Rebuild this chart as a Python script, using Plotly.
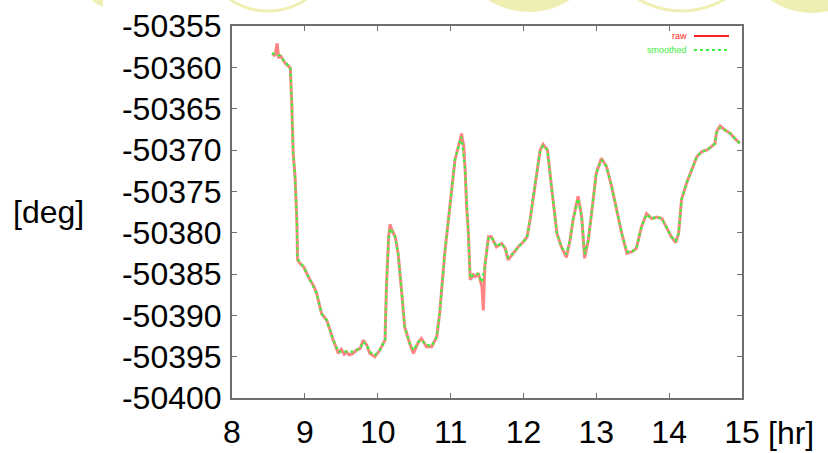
import plotly.graph_objects as go

# ---- data ----
time_raw = [8.55, 8.59, 8.62, 8.64, 8.66, 8.70, 8.73, 8.77, 8.80, 8.82, 8.84, 8.865, 8.89, 8.90,
            8.94, 8.98, 9.03, 9.07, 9.12, 9.16, 9.23, 9.30, 9.35, 9.39, 9.46, 9.50, 9.54, 9.57,
            9.61, 9.66, 9.71, 9.76, 9.80, 9.85, 9.89, 9.96, 10.03, 10.10, 10.12, 10.15, 10.17,
            10.20, 10.24, 10.28, 10.33, 10.37, 10.44, 10.49, 10.56, 10.60, 10.67, 10.74, 10.81,
            10.85, 10.92, 10.99, 11.06, 11.13, 11.15, 11.18, 11.20, 11.22, 11.24, 11.27, 11.31,
            11.34, 11.38, 11.43, 11.45, 11.47, 11.52, 11.56, 11.63, 11.70, 11.75, 11.79, 11.86,
            11.93, 12.00, 12.05, 12.09, 12.16, 12.23, 12.27, 12.33, 12.39, 12.46, 12.52, 12.59,
            12.64, 12.68, 12.75, 12.80, 12.84, 12.89, 12.94, 13.00, 13.07, 13.14, 13.21, 13.28,
            13.35, 13.42, 13.49, 13.55, 13.62, 13.69, 13.76, 13.83, 13.90, 13.96, 14.03, 14.09,
            14.13, 14.17, 14.24, 14.31, 14.38, 14.45, 14.52, 14.58, 14.63, 14.65, 14.70, 14.77,
            14.84, 14.90, 14.97]
deg_raw = [-50358.3, -50358.6, -50357.1, -50358.9, -50358.5, -50359.1, -50359.5, -50359.8, -50360.1,
           -50364.3, -50370.4, -50373.2, -50378.5, -50383.3, -50383.8, -50384.1, -50385.0,
           -50385.7, -50386.4, -50387.3, -50389.8, -50390.6, -50391.9, -50393.0, -50394.6,
           -50394.1, -50394.7, -50394.4, -50394.8, -50394.6, -50394.2, -50394.0, -50393.0,
           -50393.6, -50394.6, -50395.0, -50394.2, -50393.0, -50386.5, -50380.5, -50379.0,
           -50379.8, -50380.5, -50382.5, -50387.3, -50391.4, -50393.4, -50394.6, -50393.2,
           -50392.8, -50393.8, -50393.8, -50392.6, -50389.8, -50382.5, -50376.4, -50371.2,
           -50368.8, -50368.0, -50369.5, -50372.4, -50376.9, -50379.3, -50385.7, -50385.1,
           -50385.3, -50384.9, -50386.5, -50389.4, -50384.1, -50380.5, -50380.5, -50381.7,
           -50381.3, -50381.9, -50383.3, -50382.5, -50381.7, -50381.1, -50380.5, -50378.5,
           -50374.0, -50370.0, -50369.3, -50370.0, -50374.8, -50380.1, -50381.7, -50383.0,
           -50380.9, -50378.5, -50375.6, -50378.1, -50383.1, -50380.9, -50377.3, -50372.8,
           -50371.0, -50372.0, -50374.4, -50377.3, -50380.1, -50382.5, -50382.3, -50381.9,
           -50379.3, -50377.7, -50378.3, -50378.1, -50378.3, -50379.3, -50380.5, -50381.2,
           -50380.1, -50376.0, -50374.0, -50372.4, -50370.8, -50370.2, -50370.0, -50369.6,
           -50369.2, -50367.8, -50367.1, -50367.6, -50368.0, -50368.6, -50369.2]

time_smooth = [8.55, 8.60, 8.66, 8.73, 8.80, 8.82, 8.84, 8.865, 8.89, 8.90, 8.98, 9.07, 9.16, 9.23,
               9.30, 9.39, 9.46, 9.57, 9.66, 9.76, 9.80, 9.85, 9.89, 9.96, 10.03, 10.10, 10.12,
               10.15, 10.17, 10.24, 10.28, 10.33, 10.37, 10.44, 10.49, 10.56, 10.60, 10.67, 10.74,
               10.81, 10.85, 10.92, 10.99, 11.06, 11.13, 11.15, 11.20, 11.22, 11.24, 11.27, 11.31,
               11.38, 11.43, 11.47, 11.52, 11.56, 11.63, 11.70, 11.75, 11.79, 11.86, 11.93, 12.00,
               12.05, 12.09, 12.16, 12.23, 12.27, 12.33, 12.39, 12.46, 12.52, 12.59, 12.64, 12.68,
               12.75, 12.80, 12.84, 12.89, 12.94, 13.00, 13.07, 13.14, 13.21, 13.28, 13.35, 13.42,
               13.49, 13.55, 13.62, 13.69, 13.76, 13.83, 13.90, 13.96, 14.03, 14.09, 14.13, 14.17,
               14.24, 14.31, 14.38, 14.45, 14.52, 14.58, 14.63, 14.65, 14.70, 14.77, 14.84, 14.90,
               14.97]
deg_smooth = [-50358.3, -50358.4, -50358.6, -50359.4, -50360.0, -50364.3, -50370.4, -50373.2,
              -50378.5, -50383.2, -50384.1, -50385.7, -50387.3, -50389.8, -50390.6, -50393.0,
              -50394.4, -50394.4, -50394.4, -50394.0, -50393.2, -50393.6, -50394.4, -50394.8,
              -50394.2, -50393.0, -50386.5, -50380.7, -50379.5, -50380.5, -50382.5, -50387.3,
              -50391.4, -50393.4, -50394.2, -50393.2, -50393.0, -50393.6, -50393.7, -50392.6,
              -50389.8, -50382.5, -50376.4, -50371.2, -50368.9, -50368.4, -50372.4, -50376.9,
              -50379.3, -50385.5, -50385.1, -50385.0, -50386.0, -50384.1, -50380.7, -50380.5,
              -50381.7, -50381.3, -50381.9, -50383.0, -50382.5, -50381.7, -50381.1, -50380.5,
              -50378.5, -50374.0, -50370.0, -50369.5, -50370.0, -50374.8, -50380.1, -50381.7,
              -50382.6, -50380.9, -50378.5, -50375.9, -50378.1, -50382.6, -50380.9, -50377.3,
              -50372.8, -50371.2, -50372.0, -50374.4, -50377.3, -50380.1, -50382.3, -50382.3,
              -50381.9, -50379.3, -50377.8, -50378.3, -50378.1, -50378.3, -50379.3, -50380.5,
              -50381.0, -50380.1, -50376.0, -50374.0, -50372.4, -50370.8, -50370.2, -50370.0,
              -50369.6, -50369.2, -50367.9, -50367.3, -50367.6, -50368.0, -50368.6, -50369.2]

x_ticks = [8, 9, 10, 11, 12, 13, 14, 15]
y_ticks = [-50400, -50395, -50390, -50385, -50380, -50375, -50370, -50365, -50360, -50355]
series_names = ["raw", "smoothed"]
x_unit = "[hr]"
y_unit = "[deg]"

# ---- layout geometry (pixels) ----
W, H = 828, 453
L, R, T, B = 232, 742, 26, 398
PW, PH = R - L, B - T


def px(x):
    return (x - L) / PW


def py(y):
    return (B - y) / PH


RED = "#ff2020"
GREEN = "#3cf03c"
YEL = "#efefb3"
FONT = "Liberation Sans, Arial, sans-serif"
FS = 32

fig = go.Figure()
fig.add_trace(go.Scatter(x=time_raw, y=deg_raw, mode="lines", name=series_names[0],
                         line=dict(color=RED, width=3), opacity=0.55))
fig.add_trace(go.Scatter(x=time_smooth, y=deg_smooth, mode="lines", name=series_names[1],
                         line=dict(color=GREEN, width=2.2, dash="dot")))

shapes = []


def circle(cx, cy, r, filled):
    d = dict(type="circle", xref="paper", yref="paper",
             x0=px(cx - r), x1=px(cx + r), y0=py(cy + r), y1=py(cy - r), layer="below")
    if filled:
        d.update(fillcolor=YEL, line=dict(width=0))
    else:
        d.update(fillcolor="rgba(0,0,0,0)", line=dict(color=YEL, width=3))
    return d


# decorative background circles along the top edge
shapes.append(dict(type="path", xref="paper", yref="paper", layer="below",
                   path=f"M {px(91)},{py(0)} L {px(96)},{py(3.5)} L {px(103)},{py(7)} L {px(103)},{py(0)} Z",
                   fillcolor=YEL, line=dict(width=0)))
shapes.append(circle(268, -56.7, 67.7, False))
shapes.append(circle(529, -64, 76, True))
shapes.append(circle(681.5, -72.8, 83.8, False))
shapes.append(circle(812, -61, 74, True))

# legend samples (gnuplot style: text then sample line)
shapes.append(dict(type="line", xref="paper", yref="paper",
                   x0=px(694), x1=px(729), y0=py(36), y1=py(36),
                   line=dict(color=RED, width=2)))
shapes.append(dict(type="line", xref="paper", yref="paper",
                   x0=px(694), x1=px(729), y0=py(50), y1=py(50),
                   line=dict(color=GREEN, width=2, dash="dot")))

annotations = [
    dict(text=series_names[0], xref="paper", yref="paper", x=px(689), y=py(36),
         xanchor="right", yanchor="middle", showarrow=False,
         font=dict(family=FONT, size=9, color=RED)),
    dict(text=series_names[1], xref="paper", yref="paper", x=px(689), y=py(50),
         xanchor="right", yanchor="middle", showarrow=False,
         font=dict(family=FONT, size=9, color=GREEN)),
    dict(text=x_unit, xref="paper", yref="paper", x=px(766), y=py(433),
         xanchor="left", yanchor="middle", showarrow=False,
         font=dict(family=FONT, size=FS, color="black")),
    dict(text=y_unit, xref="paper", yref="paper", x=px(48), y=py(212),
         xanchor="center", yanchor="middle", showarrow=False,
         font=dict(family=FONT, size=FS, color="black")),
]

axis_common = dict(showline=True, linecolor="#6e6e6e", linewidth=2, mirror="allticks",
                   ticks="inside", ticklen=5, tickwidth=1, tickcolor="#6e6e6e",
                   showgrid=False, zeroline=False, automargin=False,
                   tickfont=dict(family=FONT, size=FS, color="black"))

fig.update_layout(
    width=W, height=H, autosize=False,
    margin=dict(l=L, r=W - R, t=T, b=H - B, pad=0, autoexpand=False),
    paper_bgcolor="white", plot_bgcolor="white",
    showlegend=False,
    xaxis=dict(range=[8, 15], tickvals=x_ticks, ticktext=[str(v) for v in x_ticks],
               ticklabelstandoff=5, **axis_common),
    yaxis=dict(range=[-50400, -50355], tickvals=y_ticks, ticktext=[str(v) for v in y_ticks],
               ticklabelstandoff=2, **axis_common),
    shapes=shapes,
    annotations=annotations,
)

fig.write_html("out.html",
               config={"displayModeBar": False, "responsive": False},
               post_script="document.body.style.margin='0';document.body.style.overflow='hidden';")
